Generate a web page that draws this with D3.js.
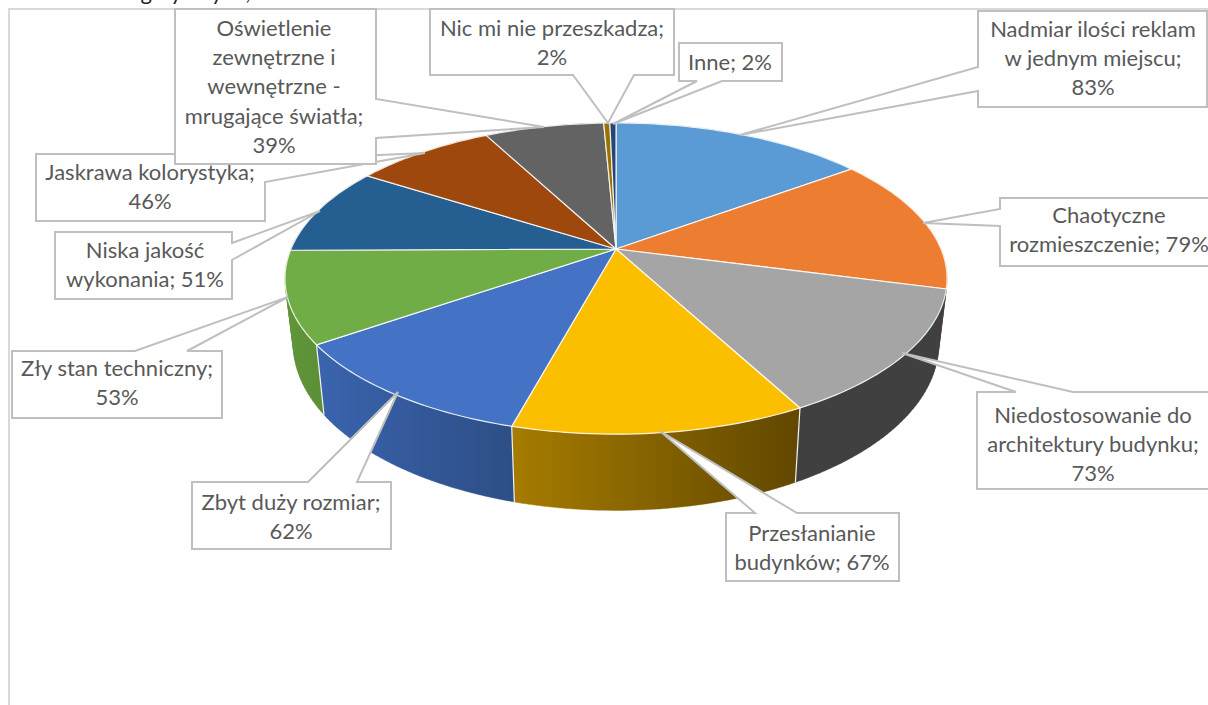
<!DOCTYPE html>
<html>
<head>
  <meta charset="utf-8">
  <title>Pie chart 3D</title>
  <style>
    html, body { margin: 0; padding: 0; width: 100%; height: 100%; overflow: hidden; background: #fff; }
    svg { display: block; }
    .label { font: 22px Lato, sans-serif; fill: #595959; text-anchor: middle; }
    .callout { fill: #fff; stroke: #bfbfbf; stroke-width: 2px; }
  </style>
</head>
<body>
  <svg id="chart" width="1208" height="705"></svg>
  <script src="https://d3js.org/d3.v7.min.js"></script>
  <script>
    // Chart values, clockwise from twelve o'clock
    const categories = [
      "Nadmiar ilości reklam w jednym miejscu", "Chaotyczne rozmieszczenie",
      "Niedostosowanie do architektury budynku", "Przesłanianie budynków",
      "Zbyt duży rozmiar", "Zły stan techniczny", "Niska jakość wykonania",
      "Jaskrawa kolorystyka", "Oświetlenie zewnętrzne i wewnętrzne - mrugające światła",
      "Nic mi nie przeszkadza", "Inne"
    ];
    const values = [83, 79, 73, 67, 62, 53, 51, 46, 39, 2, 2];

    const topColors = ["#5b9bd5", "#ed7d31", "#a5a5a5", "#fcbf00", "#4472c4", "#70ad47",
                       "#255e91", "#9e480e", "#636363", "#997300", "#264478"];
    const sideLeft  = ["#4a7cab", "#b85f25", "#404040", "#a67c00", "#3a64ae", "#609639",
                       "#1e4b74", "#7e390b", "#4f4f4f", "#7a5c00", "#1e3660"];
    const sideRight = ["#4a7cab", "#b85f25", "#404040", "#614700", "#2d4e86", "#5c8f37",
                       "#1e4b74", "#7e390b", "#4f4f4f", "#7a5c00", "#1e3660"];

    // Text of each data label, line by line
    const labelLines = [
      ["Nadmiar ilości reklam", "w jednym miejscu;", "83%"],
      ["Chaotyczne", "rozmieszczenie; 79%"],
      ["Niedostosowanie do", "architektury budynku;", "73%"],
      ["Przesłanianie", "budynków; 67%"],
      ["Zbyt duży rozmiar;", "62%"],
      ["Zły stan techniczny;", "53%"],
      ["Niska jakość", "wykonania; 51%"],
      ["Jaskrawa kolorystyka;", "46%"],
      ["Oświetlenie", "zewnętrzne i", "wewnętrzne -", "mrugające światła;", "39%"],
      ["Nic mi nie przeszkadza;", "2%"],
      ["Inne; 2%"]
    ];

    // Label layout: box [x0, y0, x1, y1], callout tip, the two wedge points, text centre x, first baseline
    const labelBoxes = [
      [978, 11, 1207, 107], [1000, 198, 1214, 266], [977, 392, 1214, 489], [726, 513, 899, 581],
      [192, 482, 391, 549], [12, 351, 222, 418], [55, 232, 232, 299], [36, 154, 265, 221],
      [175, 9, 376, 164], [430, 9, 674, 75], [679, 43, 782, 81]
    ];
    const labelTips = [
      [740, 135], [923, 223], [902, 353], [660, 431], [398, 392], [288, 297], [320, 211],
      [425, 153], [544, 127], [608, 123], [613, 124]
    ];
    const labelWedges = [
      [[978, 91], [978, 67]], [[1000, 226], [1000, 209]], [[1073, 392], [1016, 392]], [[797, 513], [755, 513]],
      [[357, 482], [308, 482]], [[187, 351], [135, 351]], [[232, 260], [232, 243]], [[265, 182], [265, 160]],
      [[376, 138], [376, 99]], [[634, 75], [573, 75]], [[722, 81], [697, 81]]
    ];
    const labelCentres = [1093, 1109, 1093, 812, 291, 117, 145, 150, 274, 552, 730];
    const labelBaselines = [37, 223, 423, 541, 510, 376, 258, 180, 36, 36, 70];
    const drawOrder = [0, 1, 2, 3, 4, 5, 6, 7, 8, 9, 10];

    const svg = d3.select("#chart");
    const defs = svg.append("defs");

    // Perspective of the pie: disc centre on screen, half axes and tilt
    const cx = 616, cy = 249, rx = 325, ry = 150, tilt = 0.19;

    function topPoint(angle) {
      const u = Math.sin(angle), v = -Math.cos(angle), d = 1 - tilt * v;
      return [cx + rx * u / d, cy + ry * v / d];
    }

    // Lower rim is the top rim pulled in a little and pushed down
    function bottomPoint(p) {
      return [cx + (p[0] - cx) * 0.975, p[1] + 70 + (p[1] - 345) * 0.07];
    }

    function rim(d) {
      const n = Math.max(2, Math.ceil((d.endAngle - d.startAngle) / 0.02));
      return d3.range(n + 1).map(i => topPoint(d.startAngle + (d.endAngle - d.startAngle) * i / n));
    }

    const line = d3.line();
    const arcs = d3.pie().sort(null).value(d => d)(values);

    // Wall of a slice as a run of small quads, all wound the same way so the
    // part behind the tangent at the pie's left and right edge still fills
    function wallPath(d) {
      const top = rim(d), bottom = top.map(bottomPoint);
      let path = "";
      for (let i = 0; i < top.length - 1; i++) {
        const quad = [top[i], top[i + 1], bottom[i + 1], bottom[i]];
        if (d3.polygonArea(quad) < 0) quad.reverse();
        path += line(quad) + "Z";
      }
      return path;
    }

    // Chart frame
    svg.append("rect")
      .attr("x", 9).attr("y", 9).attr("width", 1300).attr("height", 800)
      .attr("fill", "#fff").attr("stroke", "#d9d9d9").attr("stroke-width", 2);

    // Clipped line of the paragraph above the chart
    svg.append("text")
      .attr("x", 30).attr("y", 0)
      .attr("font-family", "Lato, sans-serif").attr("font-size", 22).attr("fill", "#222")
      .text("dla osób negatywnych;");

    // Side walls
    arcs.forEach((d, i) => {
      const top = rim(d), bottom = top.map(bottomPoint);
      const xs = top.concat(bottom).map(p => p[0]);
      const grad = defs.append("linearGradient")
        .attr("id", "side" + i)
        .attr("gradientUnits", "userSpaceOnUse")
        .attr("x1", d3.min(xs)).attr("x2", d3.max(xs))
        .attr("y1", 0).attr("y2", 0);
      grad.append("stop").attr("offset", 0).attr("stop-color", sideLeft[i]);
      grad.append("stop").attr("offset", 1).attr("stop-color", sideRight[i]);

      svg.append("path")
        .attr("d", wallPath(d))
        .attr("fill", "url(#side" + i + ")")
        .attr("stroke", "url(#side" + i + ")").attr("stroke-width", 0.4);
    });

    // White joins between the walls
    arcs.forEach(d => {
      const p = topPoint(d.startAngle), q = bottomPoint(p);
      if (p[1] > 290) {
        svg.append("path")
          .attr("d", line([p, q]))
          .attr("stroke", "#f2f2f2").attr("stroke-width", 1.2).attr("fill", "none");
      }
    });

    // Top slices
    svg.selectAll("path.slice")
      .data(arcs)
      .join("path")
      .attr("class", "slice")
      .attr("d", d => line([[cx, cy]].concat(rim(d))) + "Z")
      .attr("fill", (d, i) => topColors[i])
      .attr("stroke", "#fff").attr("stroke-opacity", 0.85).attr("stroke-width", 1.2);

    // Data labels with their callouts
    drawOrder.forEach(i => {
      const [x0, y0, x1, y1] = labelBoxes[i];
      const tip = labelTips[i], [w0, w1] = labelWedges[i];
      let pts;
      if (w0[1] === w1[1]) {
        // wedge on the box's top or bottom edge
        pts = w0[1] === y0
          ? [[x0, y0], w1, tip, w0, [x1, y0], [x1, y1], [x0, y1]]
          : [[x0, y0], [x1, y0], [x1, y1], w0, tip, w1, [x0, y1]];
      } else if (w0[0] === x0) {
        pts = [[x0, y0], [x1, y0], [x1, y1], [x0, y1], w0, tip, w1];
      } else {
        pts = [[x0, y0], [x1, y0], w1, tip, w0, [x1, y1], [x0, y1]];
      }
      svg.append("path").attr("class", "callout").attr("d", line(pts) + "Z");

      labelLines[i].forEach((txt, j) => {
        svg.append("text")
          .attr("class", "label")
          .attr("x", labelCentres[i])
          .attr("y", labelBaselines[i] + j * 29.2)
          .text(txt);
      });
    });
  </script>
</body>
</html>
